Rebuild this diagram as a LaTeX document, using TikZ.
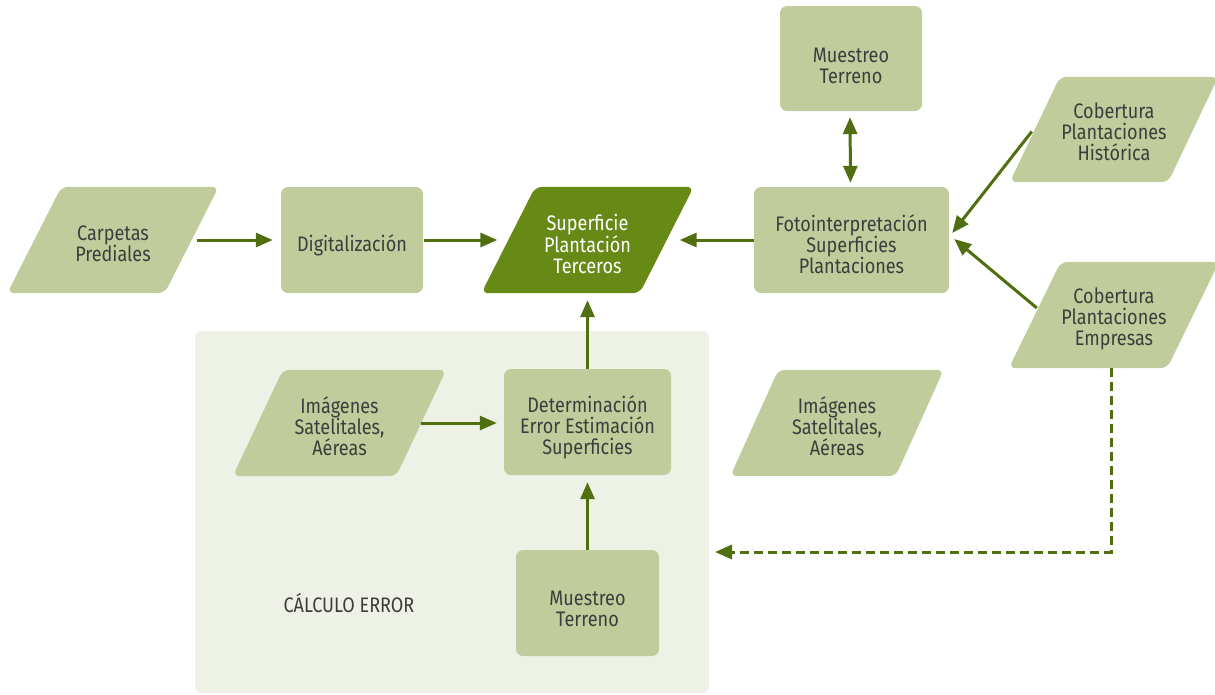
\documentclass[tikz,border=0pt]{standalone}
\usepackage{fontspec}
\setmainfont{Fira Sans}[FakeStretch=0.86]
\usetikzlibrary{arrows.meta,backgrounds,calc}
\definecolor{lg}{HTML}{C1CC9D}
\definecolor{dg}{HTML}{678A17}
\definecolor{ar}{HTML}{4F6F10}
\definecolor{bgp}{HTML}{EEF1E6}
\definecolor{tx}{HTML}{3D3D3D}
\newcommand\paral[3]{%
  \fill[#3, rounded corners=7pt] ([xshift=#2]#1.north west) -- ([xshift=#2]#1.north east) -- ([xshift=-#2]#1.south east) -- ([xshift=-#2]#1.south west) -- cycle;}
\newcommand\lt[2][4pt]{\raisebox{-#1}[\height][\depth]{\vbox{\let\\\cr\halign{\hfil##\hfil\cr#2\cr}}}}
\tikzset{
  lbl/.style={text=tx, inner sep=0pt, font=\fontsize{21}{21}\selectfont},
  box/.style={lbl, fill=lg, rounded corners=7pt},
  para/.style={lbl, minimum height=106pt},
  arr/.style={draw=ar, line width=3pt, -{Triangle[length=17pt,width=14pt]}},
}
\begin{document}
\begin{tikzpicture}[x=1pt,y=-1pt]
\useasboundingbox (0,0) rectangle (1215,694);
% nodes
\node[para, minimum width=157pt] (carp) at (113,240) {\lt{Carpetas\\Prediales}};
\node[box, minimum width=142pt, minimum height=106pt] (dig) at (352,240) {\lt[5pt]{Digitalización}};
\node[para, minimum width=158pt, text=white] (sup) at (587.5,240) {\lt{Superficie\\Plantación\\Terceros}};
\node[box, minimum width=195pt, minimum height=106pt] (foto) at (851.5,240) {\lt{Fotointerpretación\\Superficies\\Plantaciones}};
\node[box, minimum width=142pt, minimum height=105pt] (mt1) at (851,58.5) {\lt[7pt]{Muestreo\\Terreno}};
\node[para, minimum width=158pt, minimum height=105pt] (hist) at (1114,129.5) {\lt[2.5pt]{Cobertura\\Plantaciones\\Histórica}};
\node[para, minimum width=158pt] (emp) at (1114,315) {\lt{Cobertura\\Plantaciones\\Empresas}};
\node[para, minimum width=163pt] (img1) at (339.5,423) {\lt[3pt]{Imágenes\\Satelitales,\\Aéreas}};
\node[box, minimum width=167pt, minimum height=106pt] (det) at (587.5,422) {\lt[5pt]{Determinación\\Error Estimación\\Superficies}};
\node[box, minimum width=143pt, minimum height=106pt] (mt2) at (587.5,603) {\lt[6pt]{Muestreo\\Terreno}};
\node[para, minimum width=165pt] (img2) at (837,423) {\lt[3pt]{Imágenes\\Satelitales,\\Aéreas}};
\node[lbl] (calc) at (349,603) {CÁLCULO ERROR};
\coordinate (dashend) at (715,552);
% backgrounds
\begin{scope}[on background layer]
  \fill[bgp, rounded corners=6pt] (195,331) rectangle (709,693);
  \paral{carp}{27pt}{lg}
  \paral{sup}{27pt}{dg}
  \paral{hist}{25pt}{lg}
  \paral{emp}{26pt}{lg}
  \paral{img1}{25pt}{lg}
  \paral{img2}{24pt}{lg}
\end{scope}
% connectors
\draw[arr, shorten <=5pt, shorten >=8pt] (carp) -- (dig);
\draw[arr, shorten <=1pt, shorten >=11pt] (dig) -- (sup);
\draw[arr, shorten >=13pt] (foto) -- (sup);
\draw[draw=ar, line width=3pt, {Triangle[length=17pt,width=14pt]}-{Triangle[length=17pt,width=14pt]}, shorten <=6pt, shorten >=4pt] ([xshift=-1pt]mt1.south) -- ([xshift=-1pt]foto.north);
\draw[arr] ($(hist.west)+(-3,2)$) -- ($(foto.east)+(3,-7)$);
\draw[arr] ($(emp.west)+(2,-7)$) -- ($(foto.east)+(5,-1)$);
\draw[arr, shorten >=7pt] (det) -- (sup);
\draw[arr, shorten >=7pt] (img1.east) -- (img1.east -| det.west);
\draw[arr, shorten >=7pt] (mt2) -- (det);
\draw[arr, dash pattern=on 9pt off 5pt] ([xshift=-3pt]emp.south) |- (dashend);
\end{tikzpicture}
\end{document}
